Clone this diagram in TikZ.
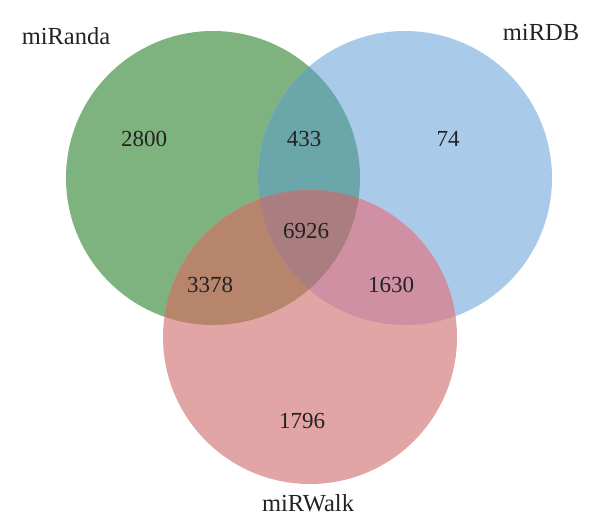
\documentclass[tikz,border=0pt]{standalone}
\usepackage{fontspec}
\setmainfont{Liberation Serif}
\definecolor{vgreen}{RGB}{126,178,126}
\definecolor{vblue}{RGB}{169,203,233}
\definecolor{vpink}{RGB}{226,165,165}
\definecolor{vteal}{RGB}{107,166,170}
\definecolor{vbrown}{RGB}{183,132,108}
\definecolor{vmauve}{RGB}{206,144,162}
\definecolor{vcore}{RGB}{170,125,128}
\definecolor{vtext}{RGB}{35,35,35}

\begin{document}
\begin{tikzpicture}[x=1pt,y=-1pt,
lbl/.style={text=vtext, font=\fontsize{23}{27}\selectfont, inner sep=0pt},
setname/.style={lbl, font=\fontsize{24.5}{29}\selectfont}]
\useasboundingbox (0,0) rectangle (600,531);
%
\coordinate (cA) at (213,178);
\coordinate (cB) at (405,178);
\coordinate (cC) at (310,337);

% the three sets
\fill[vgreen] (cA) circle[radius=147pt];
\fill[vblue] (cB) circle[radius=147pt];
\fill[vpink] (cC) circle[radius=147pt];

% overlaps
\begin{scope}
\clip (cA) circle[radius=147pt];
\fill[vteal] (cB) circle[radius=147pt];
\fill[vbrown] (cC) circle[radius=147pt];
\end{scope}
\begin{scope}
\clip (cB) circle[radius=147pt];
\fill[vmauve] (cC) circle[radius=147pt];
\clip (cA) circle[radius=147pt];
\fill[vcore] (cC) circle[radius=147pt];
\end{scope}

% set names
\node[setname] (nA) at (66,36) {miRanda};
\node[setname] (nB) at (541,32) {miRDB};
\node[setname] (nC) at (308,503) {miRWalk};

% counts
\node[lbl] (onlyA) at (144,139) {2800};
\node[lbl] (AB) at (304,139) {433};
\node[lbl] (onlyB) at (448,139) {74};
\node[lbl] (ABC) at (306,231) {6926};
\node[lbl] (AC) at (210,285) {3378};
\node[lbl] (BC) at (391,285) {1630};
\node[lbl] (onlyC) at (302,421) {1796};

\end{tikzpicture}
\end{document}
